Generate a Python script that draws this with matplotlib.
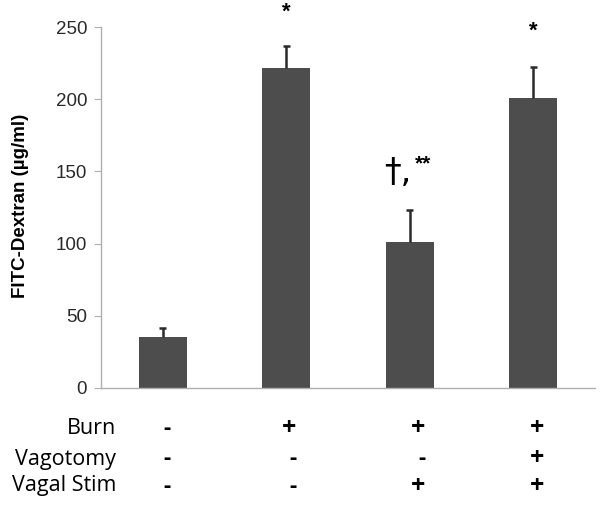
import matplotlib
matplotlib.use("Agg")
import matplotlib.pyplot as plt
import numpy as np

# Data
groups = ["G1", "G2", "G3", "G4"]
means = [35.5, 221.8, 101.3, 200.5]
errors = [5.8, 15.0, 22.0, 21.5]
yticks = [0, 50, 100, 150, 200, 250]
ylabel = "FITC-Dextran (µg/ml)"
row_labels = ["Burn", "Vagotomy", "Vagal Stim"]
row_signs = [["-", "+", "+", "+"],
             ["-", "-", "-", "+"],
             ["-", "-", "+", "+"]]

W, H = 604, 505
fig = plt.figure(figsize=(W / 100, H / 100), dpi=100)
ax = fig.add_axes([101 / W, 1 - 388 / H, (595 - 101) / W, (388 - 27) / H])

x = np.arange(len(groups))
means_a = np.array(means)
err_a = np.array(errors)
ax.bar(x, means_a, width=0.39, color="#4d4d4d", zorder=2)
ax.vlines(x, means_a, means_a + err_a, color="#2a2a2a", lw=1.8, zorder=3)
ax.hlines(means_a + err_a, x - 0.03, x + 0.03, color="#2a2a2a", lw=1.8, zorder=3)

ax.set_xlim(-0.5, len(groups) - 0.5)
ax.set_ylim(0, 250)
ax.set_yticks(yticks)
ax.set_yticklabels([str(t) for t in yticks], fontsize=13.5,
                   fontfamily="Liberation Sans", color="#2a2a2a")
ax.set_xticks([])
for s in ["top", "right"]:
    ax.spines[s].set_visible(False)
for s in ["left", "bottom"]:
    ax.spines[s].set_color("#b0b0b0")
    ax.spines[s].set_linewidth(1.0)
ax.tick_params(axis="y", length=5, color="#b0b0b0", pad=5)
ax.set_ylabel(ylabel, fontsize=13.5, fontweight="bold", fontfamily="Liberation Sans")
ax.yaxis.set_label_coords(-72 / (595 - 101), 0.505)

# significance annotations
def px2y(py):
    return (388 - py) / (388 - 27) * 250

ax.text(1, px2y(12), "*", ha="center", va="center", fontsize=16, fontweight="bold",
        fontfamily="Liberation Sans", clip_on=False)
ax.text(3, px2y(31), "*", ha="center", va="center", fontsize=16, fontweight="bold",
        fontfamily="Liberation Sans", clip_on=False)
ax.text(2 - 0.1, px2y(172), "†,", ha="center", va="center", fontsize=24,
        fontfamily="DejaVu Sans", clip_on=False)
ax.text(2 + 0.105, px2y(164), "**", ha="center", va="center", fontsize=15,
        fontweight="bold", fontfamily="Liberation Sans", clip_on=False)

# table below
row_y = [428, 459, 486]
col_off = [0, 3, 8, 4]
for r, (lab, ypx) in enumerate(zip(row_labels, row_y)):
    fig.text(116 / W, 1 - ypx / H, lab, ha="right", va="center", fontsize=15.5,
             fontfamily="Open Sans")
    for i, sgn in enumerate(row_signs[r]):
        xd = ax.transData.transform((i, 0))[0]
        off = col_off[i] + (4 if sgn == "-" else 0)
        fig.text((xd + off) / W, 1 - ypx / H, sgn, ha="center", va="center",
                 fontsize=18 if sgn == "+" else 16, fontfamily="Open Sans",
                 fontweight="bold")

fig.savefig("out.png", dpi=100)
